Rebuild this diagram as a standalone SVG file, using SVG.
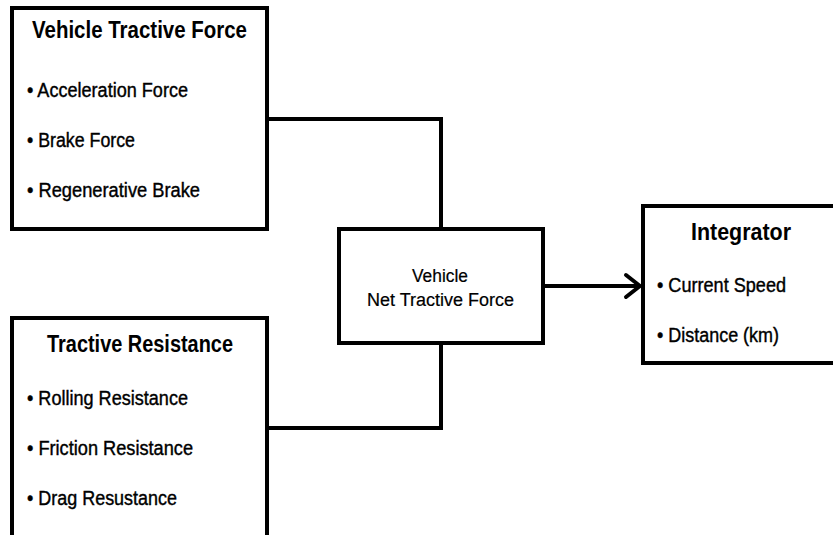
<svg xmlns="http://www.w3.org/2000/svg" width="833" height="535" viewBox="0 0 833 535">
<style>
.box{fill:#fff;stroke:#000;stroke-width:4}
.ln{fill:none;stroke:#000;stroke-width:4}
.t{font-family:"Liberation Sans",Arial,sans-serif;fill:#000}
.h{font-weight:bold;font-size:23px}
.b{font-size:20px;stroke:#000;stroke-width:0.4}
.c{font-size:18px;stroke:#000;stroke-width:0.2}
</style>
<rect width="833" height="535" fill="#fff"/>
<g id="connectors">
<polyline class="ln" points="267,119 441,119 441,229"/>
<polyline class="ln" points="267,428 441,428 441,343"/>
<line class="ln" x1="543" y1="286" x2="639" y2="286"/>
<polyline class="ln" points="626,275 640,286 626,297" stroke-linecap="round" stroke-linejoin="round"/>
</g>
<g id="vehicle-tractive-force">
<rect class="box" x="12" y="8" width="255" height="221"/>
<text class="t h" x="32" y="38" textLength="215" lengthAdjust="spacingAndGlyphs">Vehicle Tractive Force</text>
<text class="t b" x="27" y="97" textLength="161" lengthAdjust="spacingAndGlyphs">• Acceleration Force</text>
<text class="t b" x="27" y="147" textLength="108" lengthAdjust="spacingAndGlyphs">• Brake Force</text>
<text class="t b" x="27" y="197" textLength="173" lengthAdjust="spacingAndGlyphs">• Regenerative Brake</text>
</g>
<g id="tractive-resistance">
<rect class="box" x="12" y="318" width="255" height="230"/>
<text class="t h" x="47" y="352" textLength="186" lengthAdjust="spacingAndGlyphs">Tractive Resistance</text>
<text class="t b" x="27" y="405" textLength="161" lengthAdjust="spacingAndGlyphs">• Rolling  Resistance</text>
<text class="t b" x="27" y="455" textLength="166" lengthAdjust="spacingAndGlyphs">• Friction  Resistance</text>
<text class="t b" x="27" y="505" textLength="150" lengthAdjust="spacingAndGlyphs">• Drag Resustance</text>
</g>
<g id="net-tractive-force">
<rect class="box" x="339" y="229" width="204" height="114"/>
<text class="t c" x="412" y="282" textLength="56" lengthAdjust="spacingAndGlyphs">Vehicle</text>
<text class="t c" x="367" y="306" textLength="147" lengthAdjust="spacingAndGlyphs">Net Tractive Force</text>
</g>
<g id="integrator">
<rect class="box" x="643" y="206" width="200" height="157"/>
<text class="t h" x="691" y="240" textLength="100" lengthAdjust="spacingAndGlyphs">Integrator</text>
<text class="t b" x="657" y="292" textLength="129" lengthAdjust="spacingAndGlyphs">• Current Speed</text>
<text class="t b" x="657" y="342" textLength="122" lengthAdjust="spacingAndGlyphs">• Distance (km)</text>
</g>
</svg>
